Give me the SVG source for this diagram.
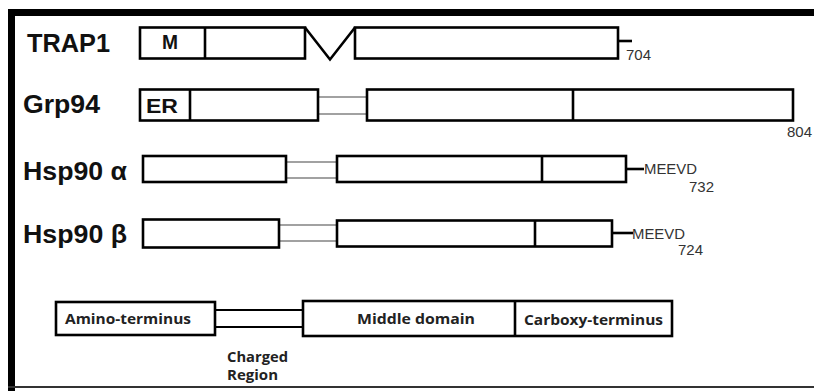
<svg xmlns="http://www.w3.org/2000/svg" width="814" height="391" viewBox="0 0 814 391">
  <style>
    .dom { fill: #fff; stroke: #000; stroke-width: 2.6; }
    .div { stroke: #000; stroke-width: 2.6; fill: none; }
    .lnk { stroke: #444; stroke-width: 1.2; fill: none; }
    .lnk-key { stroke: #000; stroke-width: 2; fill: none; }
    .name { font-family: "Liberation Sans", Arial, sans-serif; font-weight: bold; font-size: 26px; fill: #111; }
    .tag { font-family: "Liberation Sans", Arial, sans-serif; font-weight: bold; font-size: 20px; fill: #111; }
    .num { font-family: "Liberation Sans", Arial, sans-serif; font-size: 15px; fill: #333; }
    .leg { font-family: "Open Sans", "Liberation Sans", sans-serif; font-weight: bold; font-size: 14.5px; fill: #222; }
  </style>
  <rect width="814" height="391" fill="#fff"/>

  <!-- frame -->
  <g id="frame">
    <rect x="8" y="9" width="806" height="7" fill="#000"/>
    <rect x="8" y="9" width="7" height="382" fill="#000"/>
    <rect x="8" y="386" width="806" height="2" fill="#333"/>
  </g>

  <!-- TRAP1 -->
  <g id="trap1">
    <text class="name" x="27" y="52" textLength="83" lengthAdjust="spacingAndGlyphs">TRAP1</text>
    <rect class="dom" x="140" y="27.5" width="165" height="31"/>
    <line class="div" x1="205" y1="27.5" x2="205" y2="58.5"/>
    <text class="tag" x="162" y="49" textLength="16" lengthAdjust="spacingAndGlyphs">M</text>
    <polyline class="div" points="305,27.5 330,59.5 355,27.5"/>
    <rect class="dom" x="355" y="27.5" width="263" height="31"/>
    <line class="div" x1="618" y1="41" x2="632" y2="41"/>
    <text class="num" x="626" y="60">704</text>
  </g>

  <!-- Grp94 -->
  <g id="grp94">
    <text class="name" x="23" y="113" textLength="77" lengthAdjust="spacingAndGlyphs">Grp94</text>
    <line class="lnk" x1="318" y1="97" x2="367" y2="97"/>
    <line class="lnk" x1="318" y1="114" x2="367" y2="114"/>
    <rect class="dom" x="140" y="89.5" width="178" height="31"/>
    <line class="div" x1="190" y1="89.5" x2="190" y2="120.5"/>
    <text class="tag" x="146" y="113" textLength="32" lengthAdjust="spacingAndGlyphs">ER</text>
    <rect class="dom" x="367" y="89.5" width="426" height="31"/>
    <line class="div" x1="573" y1="89.5" x2="573" y2="120.5"/>
    <text class="num" x="787" y="137">804</text>
  </g>

  <!-- Hsp90 alpha -->
  <g id="hsp90a">
    <text class="name" x="23" y="180" textLength="104" lengthAdjust="spacingAndGlyphs">Hsp90 α</text>
    <line class="lnk" x1="286" y1="162" x2="337" y2="162"/>
    <line class="lnk" x1="286" y1="178" x2="337" y2="178"/>
    <rect class="dom" x="143" y="156" width="143" height="26"/>
    <rect class="dom" x="337" y="156" width="289" height="26"/>
    <line class="div" x1="542" y1="156" x2="542" y2="182"/>
    <line class="div" x1="626" y1="169" x2="644" y2="169"/>
    <text class="num" x="644" y="174" textLength="53" lengthAdjust="spacingAndGlyphs">MEEVD</text>
    <text class="num" x="689" y="192">732</text>
  </g>

  <!-- Hsp90 beta -->
  <g id="hsp90b">
    <text class="name" x="23" y="243" textLength="104" lengthAdjust="spacingAndGlyphs">Hsp90 β</text>
    <line class="lnk" x1="279" y1="225" x2="337" y2="225"/>
    <line class="lnk" x1="279" y1="241" x2="337" y2="241"/>
    <rect class="dom" x="143" y="219.5" width="136" height="28"/>
    <rect class="dom" x="337" y="220.5" width="275" height="26"/>
    <line class="div" x1="535" y1="220.5" x2="535" y2="246.5"/>
    <line class="div" x1="612" y1="233" x2="633" y2="233"/>
    <text class="num" x="632" y="239" textLength="53" lengthAdjust="spacingAndGlyphs">MEEVD</text>
    <text class="num" x="678" y="255">724</text>
  </g>

  <!-- legend -->
  <g id="legend">
    <line class="lnk-key" x1="215" y1="310" x2="303" y2="310"/>
    <line class="lnk-key" x1="215" y1="327" x2="303" y2="327"/>
    <rect class="dom" x="56" y="302" width="159" height="33"/>
    <text class="leg" x="65" y="324" textLength="126" lengthAdjust="spacingAndGlyphs">Amino-terminus</text>
    <rect class="dom" x="303" y="301" width="369" height="35"/>
    <line class="div" x1="515" y1="301" x2="515" y2="336"/>
    <text class="leg" x="357" y="324" textLength="118" lengthAdjust="spacingAndGlyphs">Middle domain</text>
    <text class="leg" x="524" y="325" textLength="139" lengthAdjust="spacingAndGlyphs">Carboxy-terminus</text>
    <text class="leg" x="227" y="362" textLength="61" lengthAdjust="spacingAndGlyphs">Charged</text>
    <text class="leg" x="227" y="380" textLength="51" lengthAdjust="spacingAndGlyphs">Region</text>
  </g>
</svg>
